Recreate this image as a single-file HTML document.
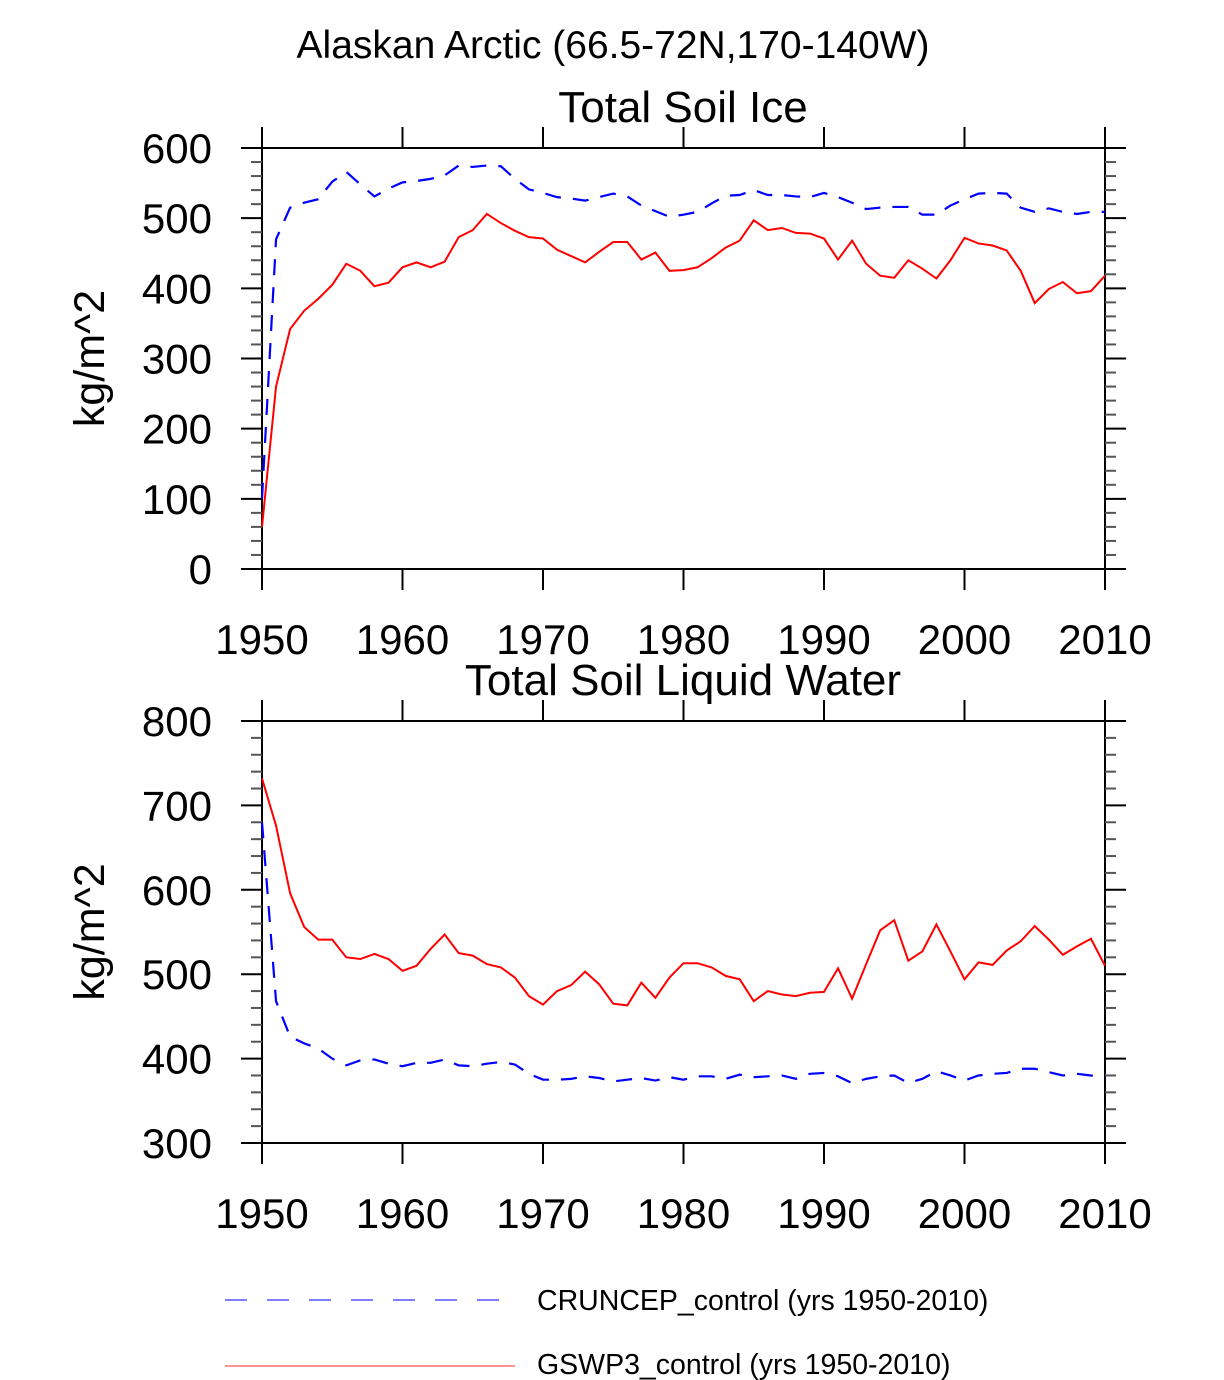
<!DOCTYPE html>
<html><head><meta charset="utf-8"><style>
html,body{margin:0;padding:0;background:#fff;}
svg{display:block;font-family:"Liberation Sans",sans-serif;}
</style></head><body>
<svg id="chart" width="1224" height="1380" viewBox="0 0 1224 1380" xmlns="http://www.w3.org/2000/svg">
<text x="613" y="58" font-size="39" text-anchor="middle">Alaskan Arctic (66.5-72N,170-140W)</text>
<g id="legend">
<line x1="225" y1="1300" x2="502" y2="1300" stroke="#3333ff" stroke-width="1.2" stroke-dasharray="22,20"/>
<text x="537" y="1310" font-size="28.5">CRUNCEP_control (yrs 1950-2010)</text>
<line x1="225" y1="1366" x2="515" y2="1366" stroke="#ff5555" stroke-width="1.2"/>
<text x="537" y="1374" font-size="28.5">GSWP3_control (yrs 1950-2010)</text>
</g>
</svg>
<script>
const years = [];
for (let y = 1950; y <= 2010; y++) years.push(y);
const iceGSWP3 = [60,260,342,368,385,405,435,425,403,408,430,437,430,438,473,483,506,493,482,473,471,455,446,437,452,466,466,441,451,425,426,430,443,458,468,497,483,486,479,478,471,441,468,435,418,415,440,428,414,440,472,464,461,454,425,379,399,409,393,396,418];
const iceCRUNCEP = [100,470,515,522,527,552,566,548,531,542,551,553,556,561,575,573,575,574,556,541,536,530,528,525,530,535,531,518,510,502,505,509,521,532,533,540,533,533,531,530,536,530,522,513,515,516,516,505,505,518,527,535,536,535,515,509,514,509,506,509,509];
const liqGSWP3 = [732,676,596,556,541,541,520,518,524,518,504,510,530,547,525,522,512,508,496,474,464,480,487,503,488,465,463,490,472,496,513,513,508,498,494,468,480,476,474,478,479,507,471,512,552,564,516,527,559,527,494,514,511,528,539,557,541,523,533,542,510];
const liqCRUNCEP = [680,468,426,418,412,400,392,398,399,394,391,395,395,399,392,391,394,396,393,382,375,375,376,379,377,373,375,377,374,378,375,379,379,376,381,378,379,380,376,382,383,379,371,376,379,380,371,376,385,380,374,380,382,383,388,388,384,380,382,380,378];
const xTicks = [1950,1960,1970,1980,1990,2000,2010];
const iceYTicks = [0,100,200,300,400,500,600];
const liqYTicks = [300,400,500,600,700,800];

const NS = "http://www.w3.org/2000/svg";
const svg = document.getElementById('chart');
function mk(tag, attrs, parent) {
  const e = document.createElementNS(NS, tag);
  for (const k in attrs) e.setAttribute(k, attrs[k]);
  (parent || svg).appendChild(e);
  return e;
}
function panel(key, title, top, bottom, ymin, ymax, yTicks, gswp, cru) {
  const L = 262, R = 1105;
  const g = mk('g', {});
  
  
  const xs = v => L + (v - 1950) / 60 * (R - L);
  const ys = v => bottom - (v - ymin) / (ymax - ymin) * (bottom - top);
  const t = mk('text', {x: 683, y: top - 26, 'font-size': 44, 'text-anchor': 'middle'}, g);
  t.textContent = title;
  
  
  const fr = mk('rect', {x: L, y: top, width: R - L, height: bottom - top, fill: 'none', stroke: '#000', 'stroke-width': 2}, g);
  
  
  xTicks.forEach(v => {
    const x = xs(v);
    mk('line', {x1: x, y1: top, x2: x, y2: top - 21, stroke: '#000', 'stroke-width': 2}, g);
    mk('line', {x1: x, y1: bottom, x2: x, y2: bottom + 21, stroke: '#000', 'stroke-width': 2}, g);
    const lb = mk('text', {x: x, y: bottom + 85, 'font-size': 42, 'text-anchor': 'middle'}, g);
    lb.textContent = v;
    
    
  });
  for (let v = ymin; v <= ymax + 0.01; v += 20) {
    const y = ys(v);
    const major = Math.abs(v % 100) < 0.01;
    const len = major ? 21 : 11;
    mk('line', {x1: L, y1: y, x2: L - len, y2: y, stroke: major ? '#000' : '#555', 'stroke-width': 2}, g);
    mk('line', {x1: R, y1: y, x2: R + len, y2: y, stroke: major ? '#000' : '#555', 'stroke-width': 2}, g);
  }
  yTicks.forEach(v => {
    const lb = mk('text', {x: 212, y: ys(v) + 15, 'font-size': 42, 'text-anchor': 'end'}, g);
    lb.textContent = v;
    
    
  });
  const yt = mk('text', {x: 0, y: 0, 'font-size': 43, 'text-anchor': 'middle', transform: 'translate(104,' + ((top + bottom) / 2) + ') rotate(-90)'}, g);
  yt.textContent = 'kg/m^2';
  
  
  const p1 = mk('polyline', {points: years.map((yr, i) => xs(yr) + ',' + ys(cru[i])).join(' '), fill: 'none', stroke: '#0000ff', 'stroke-width': 2.2, 'stroke-dasharray': '16,12'}, g);
  
  
  const p2 = mk('polyline', {points: years.map((yr, i) => xs(yr) + ',' + ys(gswp[i])).join(' '), fill: 'none', stroke: '#ff0000', 'stroke-width': 2}, g);
  
  
}
panel('soil-ice', 'Total Soil Ice', 148, 569, 0, 600, iceYTicks, iceGSWP3, iceCRUNCEP);
panel('soil-liquid', 'Total Soil Liquid Water', 721, 1143, 300, 800, liqYTicks, liqGSWP3, liqCRUNCEP);
</script>
</body></html>
